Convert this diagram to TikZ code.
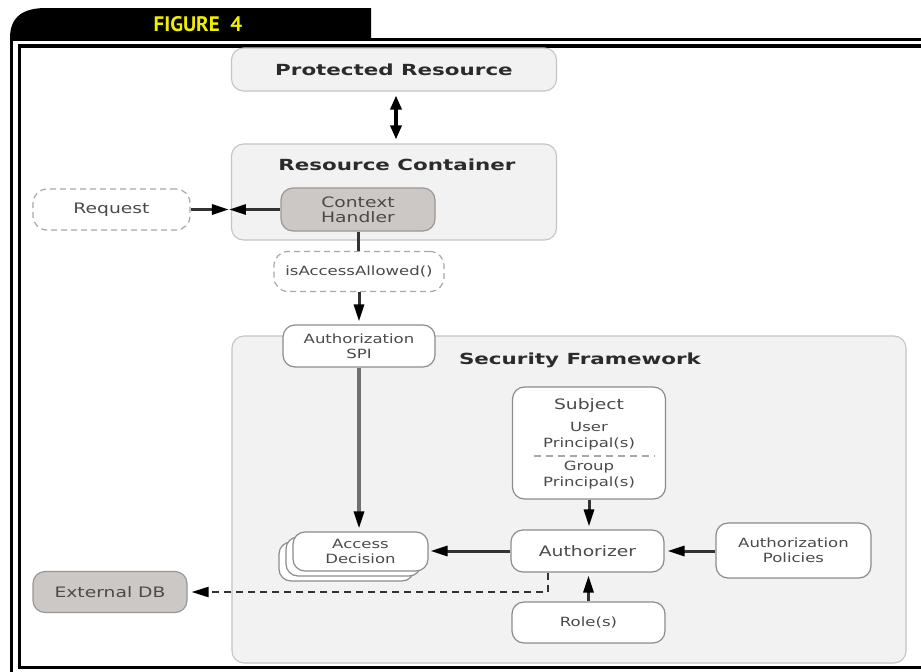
\documentclass[tikz,border=0pt]{standalone}
\usepackage{fontspec}
\setmainfont{DejaVu Sans}[FakeStretch=1.3]
\newfontfamily\headfont{DejaVu Sans}[FakeStretch=1.4]
\newfontfamily\tabfont{PT Sans}
\usetikzlibrary{arrows.meta}

\definecolor{panelfill}{HTML}{F2F2F2}
\definecolor{panelline}{HTML}{C4C4C4}
\definecolor{boxline}{HTML}{8C8C8C}
\definecolor{handlerfill}{HTML}{CCC8C5}
\definecolor{handlerline}{HTML}{9A9795}
\definecolor{dashline}{HTML}{A8A8A8}
\definecolor{txt}{HTML}{4A4A4A}
\definecolor{headtxt}{HTML}{2B2B2B}
\definecolor{wire}{HTML}{333333}
\definecolor{spiwire}{HTML}{707070}
\definecolor{figyellow}{HTML}{F2EE00}

\tikzset{
  regtext/.style={font=\fontsize{14.4}{15}\selectfont, text=txt, align=center},
  smalltext/.style={font=\fontsize{12.7}{15}\selectfont, text=txt, align=center},
  headtext/.style={font=\headfont\bfseries\fontsize{15.3}{17}\selectfont, text=headtxt},
  panel/.style={draw=panelline, fill=panelfill, line width=1.1pt, rounded corners=12pt, inner sep=0pt},
  whitebox/.style={draw=boxline, fill=white, line width=1.2pt, rounded corners=12pt, inner sep=0pt},
  greybox/.style={draw=handlerline, fill=handlerfill, line width=1.2pt, rounded corners=12pt, inner sep=0pt},
  dashbox/.style={draw=dashline, fill=white, line width=1.2pt, dash pattern=on 6pt off 4pt, rounded corners=14pt, inner sep=0pt},
  tipend/.tip={Triangle[length=17pt,width=10pt,color=black]},
  shorttip/.tip={Triangle[length=14pt,width=11pt,color=black]},
  wirearrow/.style={draw=wire, line width=3pt, -tipend},
  wireplain/.style={draw=wire, line width=3pt},
  dasharrow/.style={draw=wire, line width=2.2pt, dash pattern=on 7pt off 5pt, -tipend},
}

\begin{document}
\begin{tikzpicture}[x=1pt,y=-1pt]
\useasboundingbox (0,0) rectangle (921,672);
\fill[white] (0,0) rectangle (921,672);

% heading tab and double frame
\fill[black] (10,40) -- (10,38) .. controls (10,16) and (24,8) .. (46,8) -- (371,8) -- (371,40) -- cycle;
\node[font=\tabfont\bfseries\fontsize{21}{24}\selectfont, text=figyellow] (figlabel) at (198,24) {FIGURE\ \ 4};
\draw[black, line width=3pt] (11.5,672) -- (11.5,39) -- (921,39);
\draw[black, line width=3.5pt] (921,46) -- (19.5,46) -- (19.5,667.5) -- (921,667.5);

% containers
\node[panel, minimum width=325pt, minimum height=43pt, headtext] (prot) at (394,69.5) {Protected Resource};
\node[panel, minimum width=325pt, minimum height=96pt] (rc) at (394,192) {};
\node[headtext] (rctitle) at (397,165) {Resource Container};
\node[panel, minimum width=674pt, minimum height=327pt] (sf) at (569,499.5) {};
\node[headtext] (sftitle) at (580,360) {Security Framework};

% resource container contents and request
\node[greybox, minimum width=154pt, minimum height=43pt, regtext] (ch) at (358,209.5) {Context\\Handler};
\node[dashbox, minimum width=157pt, minimum height=41pt, regtext] (req) at (111.5,209.5) {Request};
\node[dashbox, minimum width=170pt, minimum height=40pt, smalltext] (iaa) at (359,271.5) {isAccessAllowed()};
\node[whitebox, minimum width=152pt, minimum height=42pt, smalltext] (spi) at (359,346) {Authorization\\SPI};

% security framework contents
\node[whitebox, minimum width=153pt, minimum height=112pt] (subj) at (589,443) {};
\node[regtext] (subjtitle) at (589,406) {Subject};
\node[smalltext, font=\fontsize{12.7}{16}\selectfont] (userp) at (589,436) {User\\Principal(s)};
\node[smalltext, font=\fontsize{12.7}{16}\selectfont] (groupp) at (589,475) {Group\\Principal(s)};
\draw[dashline, line width=1.2pt, dash pattern=on 7pt off 5pt] ([xshift=22pt]subj.west |- 0,456) -- ([xshift=-12pt]subj.east |- 0,456);

\node[whitebox, minimum width=153pt, minimum height=42pt, regtext] (auth) at (587.5,551) {Authorizer};
\node[whitebox, minimum width=155pt, minimum height=55pt, smalltext] (pol) at (793.5,550.5) {Authorization\\Policies};
\node[whitebox, minimum width=153pt, minimum height=41pt, smalltext] (role) at (588.5,622.5) {Role(s)};

\node[whitebox, minimum width=135pt, minimum height=39pt] (adback2) at (346.5,561.5) {};
\node[whitebox, minimum width=135pt, minimum height=39pt] (adback1) at (353.5,556.5) {};
\node[whitebox, minimum width=135pt, minimum height=39pt, smalltext] (ad) at (360.5,551.5) {Access\\Decision};

\node[greybox, minimum width=154pt, minimum height=41pt, regtext] (ext) at (110,592) {External DB};

% connectors
\draw[draw=black, line width=3.4pt, shorttip-shorttip] ([xshift=2pt,yshift=-4pt]prot.south) -- ([xshift=2pt,yshift=4pt]prot.south |- rc.north);
\draw[wirearrow, shorten >=2pt] (req.east) -- (rc.west |- req.east);
\draw[wirearrow, shorten >=-2pt] (ch.west) -- (rc.west |- ch.west);
\draw[wireplain] (ch.south) -- (ch.south |- iaa.north);
\draw[wirearrow, shorten >=3pt] (iaa.south) -- (iaa.south |- spi.north);
\draw[draw=spiwire, line width=3.2pt, -tipend, shorten >=3pt] (spi.south) -- (spi.south |- ad.north);
\draw[wirearrow, shorten >=3pt] (subj.south) -- (subj.south |- auth.north);
\draw[wirearrow, shorten >=3pt] (role.north) -- (role.north |- auth.south);
\draw[wirearrow, shorten >=3pt] (pol.west |- auth.east) -- (auth.east);
\draw[wirearrow, shorten >=2pt] (auth.west) -- (auth.west -| ad.east);
\coordinate (tap) at ([xshift=-39.5pt]auth.south);
\draw[dasharrow, shorten >=4pt] (tap) |- (ext.east);
\end{tikzpicture}
\end{document}
